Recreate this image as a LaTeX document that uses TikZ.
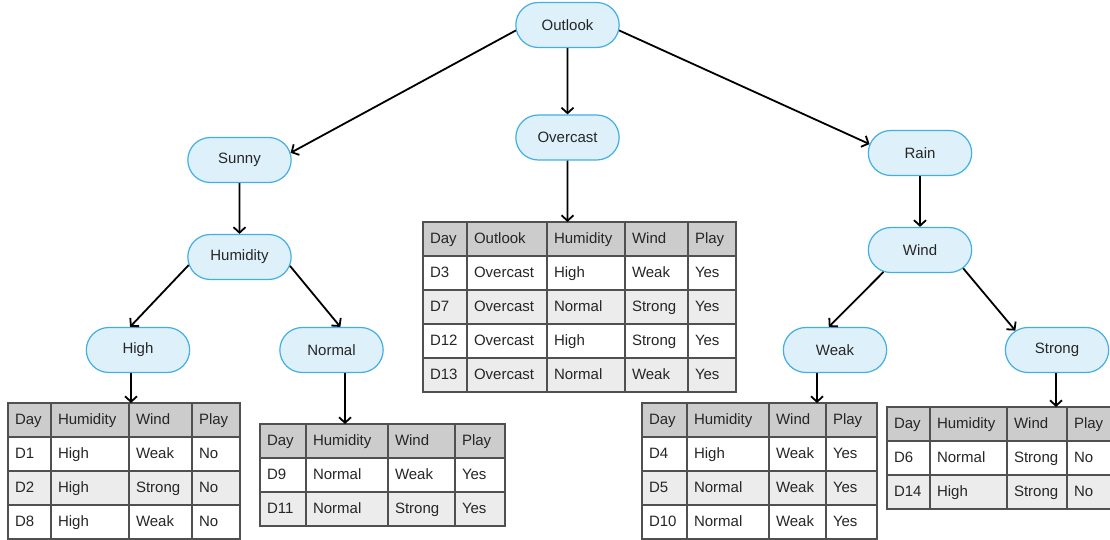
\documentclass[tikz,border=0pt]{standalone}
\usepackage{fontspec}
\setmainfont{Liberation Sans}
\usetikzlibrary{arrows.meta,shapes.misc,positioning}
\definecolor{attrfill}{RGB}{222,241,251}
\definecolor{attrline}{RGB}{65,175,228}
\definecolor{gridline}{RGB}{80,80,80}
\definecolor{headgray}{RGB}{204,204,204}
\definecolor{rowgray}{RGB}{236,236,236}

\begin{document}
\begin{tikzpicture}[
  x=1pt, y=-1pt,
  every node/.style = {font=\fontsize{15}{18}\selectfont, text=black!85},
  attr/.style   = {rounded rectangle, draw=attrline, fill=attrfill,
                   line width=1.2pt, minimum width=110pt, minimum height=45pt},
  arr/.style    = {line width=1.8pt, -{Straight Barb[length=5.5pt,width=12pt]}},
  tcell/.style  = {draw=gridline, fill=white, line width=1.5pt, outer sep=0pt,
                   anchor=north west, minimum height=34pt, inner xsep=7pt,
                   text width=#1pt-14pt, text height=11pt, text depth=3pt,
                   align=left},
  thead/.style  = {tcell=#1, fill=headgray},
  tshade/.style = {tcell=#1, fill=rowgray},
]

\path[use as bounding box, fill=white] (0,0) rectangle (1110,540);

%% -- Tree nodes ---------------------------------------------------------------
\node[attr] (outlook)  at (567.5, 25)  {Outlook};
\node[attr] (sunny)    at (239.5, 160) {Sunny};
\node[attr] (overcast) at (567.5, 137.5) {Overcast};
\node[attr] (rain)     at (920, 153)   {Rain};
\node[attr] (humid)    at (239.5, 257) {Humidity};
\node[attr] (wind)     at (920, 250)   {Wind};
\node[attr] (high)     at (138, 350)   {High};
\node[attr] (normal)   at (331.5, 350) {Normal};
\node[attr] (weak)     at (835, 350)   {Weak};
\node[attr] (strong)   at (1057, 350)  {Strong};

%% -- Table: Sunny / High ------------------------------------------------------
\node[thead=43]  (hi-01) at (8, 403)   {Day};
\node[thead=78]  (hi-02) at (51, 403)  {Humidity};
\node[thead=63]  (hi-03) at (129, 403) {Wind};
\node[thead=48]  (hi-04) at (192, 403) {Play};
\node[tcell=43]  (hi-11) at (8, 437)   {D1};
\node[tcell=78]  (hi-12) at (51, 437)  {High};
\node[tcell=63]  (hi-13) at (129, 437) {Weak};
\node[tcell=48]  (hi-14) at (192, 437) {No};
\node[tshade=43] (hi-21) at (8, 471)   {D2};
\node[tshade=78] (hi-22) at (51, 471)  {High};
\node[tshade=63] (hi-23) at (129, 471) {Strong};
\node[tshade=48] (hi-24) at (192, 471) {No};
\node[tcell=43]  (hi-31) at (8, 505)   {D8};
\node[tcell=78]  (hi-32) at (51, 505)  {High};
\node[tcell=63]  (hi-33) at (129, 505) {Weak};
\node[tcell=48]  (hi-34) at (192, 505) {No};
\coordinate (hiIn) at (131, 403);

%% -- Table: Sunny / Normal ----------------------------------------------------
\node[thead=46]  (nm-01) at (260, 424) {Day};
\node[thead=82]  (nm-02) at (306, 424) {Humidity};
\node[thead=67]  (nm-03) at (388, 424) {Wind};
\node[thead=50]  (nm-04) at (455, 424) {Play};
\node[tcell=46]  (nm-11) at (260, 458) {D9};
\node[tcell=82]  (nm-12) at (306, 458) {Normal};
\node[tcell=67]  (nm-13) at (388, 458) {Weak};
\node[tcell=50]  (nm-14) at (455, 458) {Yes};
\node[tshade=46] (nm-21) at (260, 492) {D11};
\node[tshade=82] (nm-22) at (306, 492) {Normal};
\node[tshade=67] (nm-23) at (388, 492) {Strong};
\node[tshade=50] (nm-24) at (455, 492) {Yes};
\coordinate (nmIn) at (345, 424);

%% -- Table: Overcast ----------------------------------------------------------
\node[thead=44]  (oc-01) at (423, 222) {Day};
\node[thead=80]  (oc-02) at (467, 222) {Outlook};
\node[thead=78]  (oc-03) at (547, 222) {Humidity};
\node[thead=63]  (oc-04) at (625, 222) {Wind};
\node[thead=48]  (oc-05) at (688, 222) {Play};
\node[tcell=44]  (oc-11) at (423, 256) {D3};
\node[tcell=80]  (oc-12) at (467, 256) {Overcast};
\node[tcell=78]  (oc-13) at (547, 256) {High};
\node[tcell=63]  (oc-14) at (625, 256) {Weak};
\node[tcell=48]  (oc-15) at (688, 256) {Yes};
\node[tshade=44] (oc-21) at (423, 290) {D7};
\node[tshade=80] (oc-22) at (467, 290) {Overcast};
\node[tshade=78] (oc-23) at (547, 290) {Normal};
\node[tshade=63] (oc-24) at (625, 290) {Strong};
\node[tshade=48] (oc-25) at (688, 290) {Yes};
\node[tcell=44]  (oc-31) at (423, 324) {D12};
\node[tcell=80]  (oc-32) at (467, 324) {Overcast};
\node[tcell=78]  (oc-33) at (547, 324) {High};
\node[tcell=63]  (oc-34) at (625, 324) {Strong};
\node[tcell=48]  (oc-35) at (688, 324) {Yes};
\node[tshade=44] (oc-41) at (423, 358) {D13};
\node[tshade=80] (oc-42) at (467, 358) {Overcast};
\node[tshade=78] (oc-43) at (547, 358) {Normal};
\node[tshade=63] (oc-44) at (625, 358) {Weak};
\node[tshade=48] (oc-45) at (688, 358) {Yes};
\coordinate (ocIn) at (567.5, 222);

%% -- Table: Rain / Weak -------------------------------------------------------
\node[thead=45]  (wk-01) at (642, 403) {Day};
\node[thead=82]  (wk-02) at (687, 403) {Humidity};
\node[thead=57]  (wk-03) at (769, 403) {Wind};
\node[thead=51]  (wk-04) at (826, 403) {Play};
\node[tcell=45]  (wk-11) at (642, 437) {D4};
\node[tcell=82]  (wk-12) at (687, 437) {High};
\node[tcell=57]  (wk-13) at (769, 437) {Weak};
\node[tcell=51]  (wk-14) at (826, 437) {Yes};
\node[tshade=45] (wk-21) at (642, 471) {D5};
\node[tshade=82] (wk-22) at (687, 471) {Normal};
\node[tshade=57] (wk-23) at (769, 471) {Weak};
\node[tshade=51] (wk-24) at (826, 471) {Yes};
\node[tcell=45]  (wk-31) at (642, 505) {D10};
\node[tcell=82]  (wk-32) at (687, 505) {Normal};
\node[tcell=57]  (wk-33) at (769, 505) {Weak};
\node[tcell=51]  (wk-34) at (826, 505) {Yes};
\coordinate (wkIn) at (817, 403);

%% -- Table: Rain / Strong -----------------------------------------------------
\node[thead=43]  (st-01) at (887, 407)  {Day};
\node[thead=77]  (st-02) at (930, 407)  {Humidity};
\node[thead=60]  (st-03) at (1007, 407) {Wind};
\node[thead=45]  (st-04) at (1067, 407) {Play};
\node[tcell=43]  (st-11) at (887, 441)  {D6};
\node[tcell=77]  (st-12) at (930, 441)  {Normal};
\node[tcell=60]  (st-13) at (1007, 441) {Strong};
\node[tcell=45]  (st-14) at (1067, 441) {No};
\node[tshade=43] (st-21) at (887, 475)  {D14};
\node[tshade=77] (st-22) at (930, 475)  {High};
\node[tshade=60] (st-23) at (1007, 475) {Strong};
\node[tshade=45] (st-24) at (1067, 475) {No};
\coordinate (stIn) at (1056, 407);

%% -- Branches -----------------------------------------------------------------
\draw[arr] (outlook.186) -- (sunny.8);
\draw[arr] (outlook) -- (overcast);
\draw[arr] (outlook.354) -- (rain.170);
\draw[arr] (sunny) -- (humid);
\draw[arr] (rain) -- (wind);
\draw[arr] (humid.189) -- (high.109);
\draw[arr] (humid.350) -- (normal.69);
\draw[arr] (wind.211) -- (weak.105);
\draw[arr] (wind.337) -- (strong.155);

% leaves into their tables
\draw[arr] (high.south -| hiIn) -- (hiIn);
\draw[arr] (normal.south -| nmIn) -- (nmIn);
\draw[arr] (overcast) -- (ocIn);
\draw[arr] (weak.south -| wkIn) -- (wkIn);
\draw[arr] (strong.south -| stIn) -- (stIn);

\end{tikzpicture}
\end{document}
